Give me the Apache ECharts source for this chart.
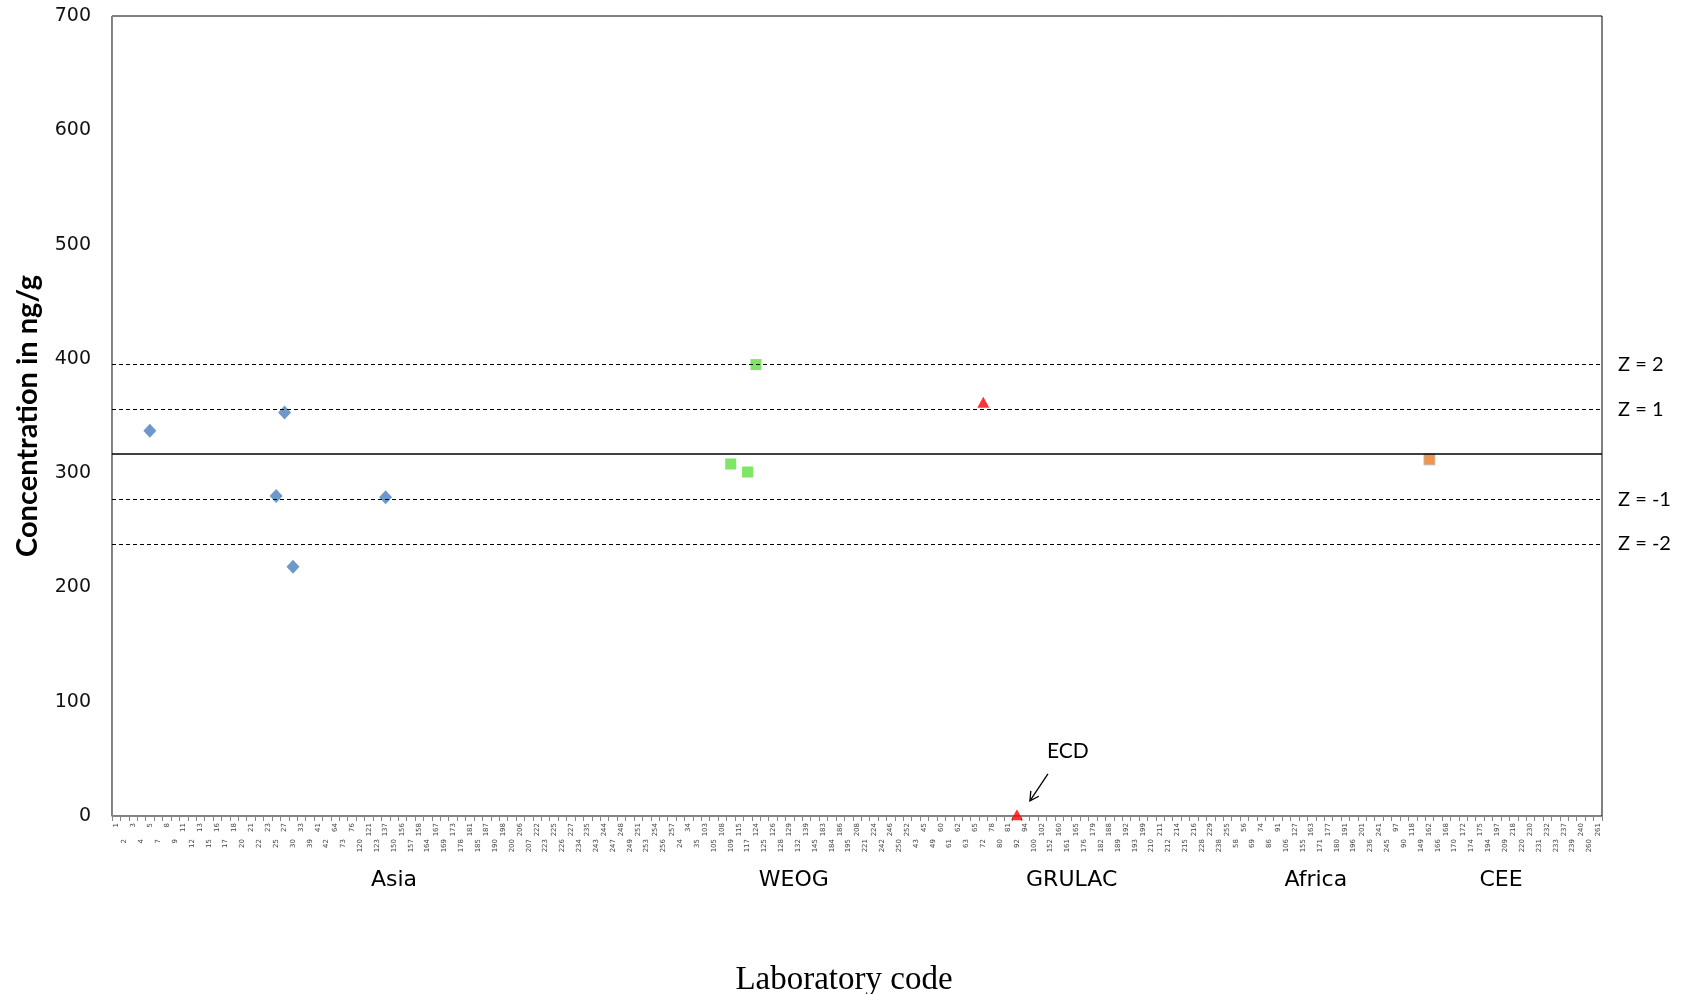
<!DOCTYPE html>
<html><head><meta charset="utf-8">
<script src="https://cdn.jsdelivr.net/npm/echarts@6/dist/echarts.min.js"></script>
<style>html,body{margin:0;padding:0;background:#fff}#c{width:1684px;height:994px}</style>
</head><body><div id="c"></div>
<script>
// Laboratory codes per region (x-axis categories)
const asiaCodes = ['1','2','3','4','5','7','8','9','11','12','13','15','16','17','18','20','21','22','23','25','27','30','33','39','41','42','64','73','76','120','121','123','137','150','156','157','158','164','167','169','173','178','181','185','187','190','198','200','206','207','222','223','225','226','227','234','235','243','244','247','248','249','251','253','254','256','257'];
const weogCodes = ['24','34','35','103','105','108','109','115','117','124','125','126','128','129','132','139','145','183','184','186','195','208','221','224','242','246','250','252'];
const grulacCodes = ['43','45','49','60','61','62','63','65','72','78','80','81','92','94','100','102','152','160','161','165','176','179','182','188','189','192','193','199','210','211','212','214','215','216','228','229','238','255'];
const africaCodes = ['58','56','69','74','86','91','106','127','155','163','171','177','180','191','196','201','236','241','245','97'];
const ceeCodes = ['90','118','149','162','166','168','170','172','174','175','194','197','209','218','220','230','231','232','233','237','239','240','260','261'];
const groupNames = ['Asia','WEOG','GRULAC','Africa','CEE'];

// Reported concentrations (ng/g)
const asiaPoints = [['5',337],['25',280],['27',353],['30',218],['137',279]];
const weogPoints = [['109',308],['117',301],['124',395]];
const grulacPoints = [['72',362],['92',1]];
const ceePoints = [['162',312]];

// Assigned value and z-score limits
const assignedValue = 317;
const zLabels = ['Z = 2','Z = 1','Z = -1','Z = -2'];
const zValues = [395, 356, 277, 238];
const ecdCode = '92';
const ecdValue = 1;

const yMin = 0, yMax = 700, yStep = 100;

const groups = [asiaCodes, weogCodes, grulacCodes, africaCodes, ceeCodes];
const categories = [].concat(...groups);

const chart = echarts.init(document.getElementById('c'));

const markLineData = [{yAxis: assignedValue, lineStyle:{type:'solid', width:1.5, color:'#000'}, label:{show:false}}]
  .concat(zValues.map((v,i)=>({yAxis:v, label:{formatter: zLabels[i]}})));

chart.setOption({
  animation:false,
  backgroundColor:'#fff',
  grid:{left:112, right:82, top:16, bottom:178, show:true, borderColor:'#000', borderWidth:1, containLabel:false, outerBoundsMode:'none'},
  xAxis:{
    type:'category', data:categories, boundaryGap:true,
    name:'Laboratory code', nameLocation:'middle', nameGap:148,
    nameTextStyle:{fontFamily:'Liberation Serif', fontSize:33, color:'#000', padding:[0,26,0,0]},
    axisLine:{lineStyle:{color:'#868686', width:1}},
    axisTick:{show:true, interval:0, length:5, lineStyle:{color:'#868686'}},
    axisLabel:{interval:0, rotate:90, margin:7, fontSize:7, color:'#444', fontFamily:'DejaVu Sans',
      formatter:(v,i)=> (i%2 ? '{b|'+v+'}' : '{a|'+v+'}'),
      rich:{a:{fontSize:7, color:'#444'}, b:{fontSize:7, color:'#444', padding:[0,16,0,0]}}},
    splitLine:{show:false}
  },
  yAxis:{
    type:'value', min:yMin, max:yMax, interval:yStep,
    name:'Concentration in ng/g', nameLocation:'middle', nameGap:70,
    nameTextStyle:{fontFamily:'Lato', fontWeight:'bold', fontSize:29, color:'#000'},
    axisLine:{show:true, lineStyle:{color:'#868686'}},
    axisTick:{show:false},
    axisLabel:{fontFamily:'DejaVu Sans', fontSize:19, color:'#111', margin:21},
    splitLine:{show:false}
  },
  series:[
    {name:'Asia', type:'scatter', symbol:'diamond', symbolSize:[13,14], itemStyle:{color:'#4A7EBB'}, data:asiaPoints,
      markLine:{silent:true, symbol:['none','none'], animation:false,
        lineStyle:{type:[4,3], color:'#000', width:1},
        label:{show:true, position:'end', distance:16, fontFamily:'Lato', fontSize:20, color:'#000'},
        data:markLineData}},
    {name:'WEOG', type:'scatter', symbol:'rect', symbolSize:11, itemStyle:{color:'#5EDF3F'}, data:weogPoints},
    {name:'GRULAC', type:'scatter', symbol:'triangle', symbolSize:[12,11], itemStyle:{color:'#FF0000'}, data:grulacPoints},
    {name:'CEE', type:'scatter', symbol:'rect', symbolSize:11, itemStyle:{color:'#EE7A1E', borderColor:'#A9C4D8', borderWidth:1}, data:ceePoints}
  ]
});

function addGraphics(){
  const els = [];
  const y0 = chart.convertToPixel({yAxisIndex:0}, yMin);
  groups.forEach((g, gi)=>{
    const a = chart.convertToPixel({xAxisIndex:0}, g[0]);
    const b = chart.convertToPixel({xAxisIndex:0}, g[g.length-1]);
    els.push({type:'text', x:(a+b)/2, y:y0+64,
      style:{text:groupNames[gi], fontFamily:'DejaVu Sans', fontSize:22, fill:'#000', align:'center', verticalAlign:'middle'}});
  });
  const p = chart.convertToPixel({seriesIndex:2}, [ecdCode, ecdValue]);
  const x1 = p[0]+31, y1 = p[1]-41, x2 = p[0]+13, y2 = p[1]-14;
  els.push({type:'polyline', shape:{points:[[x1,y1],[x2,y2]]}, style:{stroke:'#000', lineWidth:1.3, fill:null}});
  const ang = Math.atan2(y2-y1, x2-x1), L = 10;
  els.push({type:'polyline', shape:{points:[
    [x2 - L*Math.cos(ang-0.5), y2 - L*Math.sin(ang-0.5)], [x2,y2],
    [x2 - L*Math.cos(ang+0.5), y2 - L*Math.sin(ang+0.5)]]}, style:{stroke:'#000', lineWidth:1.3, fill:null}});
  els.push({type:'text', x:p[0]+51, y:p[1]-64,
    style:{text:'ECD', fontFamily:'Lato', fontSize:21, fill:'#000', align:'center', verticalAlign:'middle'}});
  chart.setOption({graphic:els});
}
addGraphics();
</script>
</body></html>
